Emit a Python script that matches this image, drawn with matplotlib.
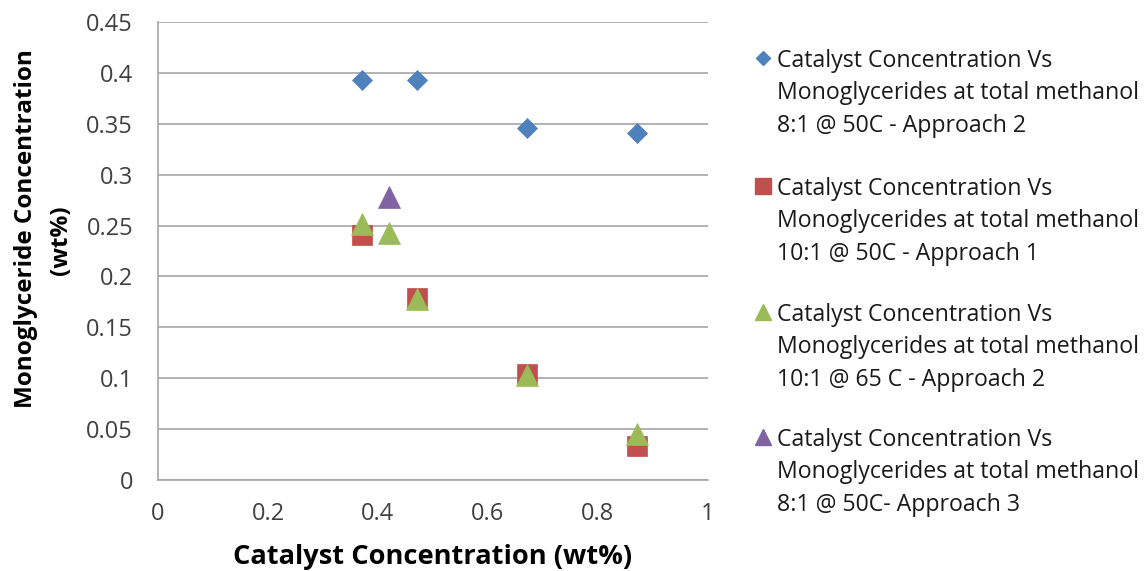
import matplotlib
matplotlib.use("Agg")
import matplotlib.pyplot as plt
from matplotlib.lines import Line2D

plt.rcParams['font.family'] = ['Open Sans', 'DejaVu Sans']

# Data
x_a2_50 = [0.37, 0.47, 0.67, 0.87]
y_a2_50 = [0.393, 0.393, 0.346, 0.341]

x_a1_50 = [0.37, 0.47, 0.67, 0.87]
y_a1_50 = [0.241, 0.179, 0.104, 0.033]

x_a2_65 = [0.37, 0.42, 0.47, 0.67, 0.87]
y_a2_65 = [0.252, 0.243, 0.178, 0.103, 0.045]

x_a3_50 = [0.42]
y_a3_50 = [0.278]

labels = [
    "Catalyst Concentration Vs\nMonoglycerides at total methanol\n8:1 @ 50C - Approach 2",
    "Catalyst Concentration Vs\nMonoglycerides at total methanol\n10:1 @ 50C - Approach 1",
    "Catalyst Concentration Vs\nMonoglycerides at total methanol\n10:1 @ 65 C - Approach 2",
    "Catalyst Concentration Vs\nMonoglycerides at total methanol\n8:1 @ 50C- Approach 3",
]
x_ticks = [0, 0.2, 0.4, 0.6, 0.8, 1]
x_tick_labels = ["0", "0.2", "0.4", "0.6", "0.8", "1"]
y_ticks = [0, 0.05, 0.1, 0.15, 0.2, 0.25, 0.3, 0.35, 0.4, 0.45]
y_tick_labels = ["0", "0.05", "0.1", "0.15", "0.2", "0.25", "0.3", "0.35", "0.4", "0.45"]

colors = ['#4F81BD', '#C0504D', '#9BBB59', '#8064A2']
markers = ['D', 's', '^', '^']
msizes = [10.5, 15, 16, 16]
leg_msizes = [7.5, 11, 11, 11]

fig = plt.figure(figsize=(11.46, 5.71), dpi=100)
ax = fig.add_axes([158/1146, 1 - 480/571, 550/1146, (480 - 22)/571])

series = [(x_a2_50, y_a2_50), (x_a1_50, y_a1_50), (x_a2_65, y_a2_65), (x_a3_50, y_a3_50)]
for (xs, ys), c, m, s in zip(series, colors, markers, msizes):
    ax.plot(xs, ys, linestyle='none', marker=m, markersize=s, color=c,
            markeredgecolor=c, markeredgewidth=0.5, zorder=3)

ax.set_xlim(0, 1)
ax.set_ylim(0, 0.45)
ax.set_xticks(x_ticks)
ax.set_xticklabels(x_tick_labels)
ax.set_yticks(y_ticks)
ax.set_yticklabels(y_tick_labels)
ax.tick_params(axis='both', length=0, labelsize=17, colors='#404040')
ax.tick_params(axis='y', pad=18)
ax.tick_params(axis='x', pad=16)
ax.grid(axis='y', color='#A6A6A6', linewidth=1.2)
ax.set_axisbelow(True)
for side in ['top', 'right']:
    ax.spines[side].set_visible(False)
for side in ['left', 'bottom']:
    ax.spines[side].set_color('#A6A6A6')
    ax.spines[side].set_linewidth(1.2)

ax.set_xlabel("Catalyst Concentration (wt%)", fontsize=19.6, fontweight='bold', labelpad=13)
ax.set_ylabel("Monoglyceride Concentration\n(wt%)" + " " * 4, fontsize=17.5, fontweight='bold',
              linespacing=1.65)
ax.yaxis.set_label_coords((74 - 158) / 550, (480 - 229) / 458)

# Legend drawn manually to align markers with first line of each entry
first_line_y = [58, 186, 312, 437]
for yl, lab, c, m, s in zip(first_line_y, labels, colors, markers, leg_msizes):
    fig.text(777/1146, 1 - (yl - 9)/571, lab, fontsize=16.7, va='top', ha='left',
             color='#1a1a1a', linespacing=1.47)
    fig.add_artist(Line2D([763/1146], [1 - yl/571], marker=m, markersize=s,
                          color=c, linestyle='none', transform=fig.transFigure))

fig.savefig("out.png", dpi=100)
